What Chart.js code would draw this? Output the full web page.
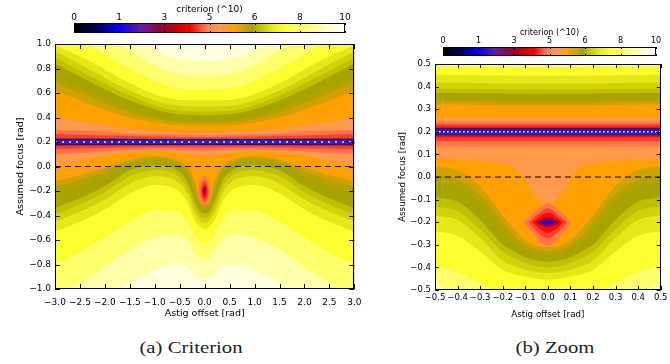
<!DOCTYPE html>
<html>
<head>
<meta charset="utf-8">
<script src="https://cdn.jsdelivr.net/npm/chart.js@4.4.0/dist/chart.umd.min.js"></script>
<style>
  body { margin: 0; background: #fff; }
  #page { position: relative; width: 670px; height: 364px; overflow: hidden; background: #fff; }
  canvas { position: absolute; }
  .cap { position: absolute; top: 339px; width: 200px; text-align: center; line-height: 18px;
         font-family: "Liberation Serif", serif; font-size: 17px; color: #222;
         transform: scaleX(1.22); white-space: nowrap; }
</style>
</head>
<body>
<div id="page">
  <canvas id="critA" width="370" height="330" style="left:0px;top:0px"></canvas>
  <canvas id="critB" width="290" height="330" style="left:380px;top:0px"></canvas>
  <canvas id="barA" width="300" height="40" style="left:60px;top:0px"></canvas>
  <canvas id="barB" width="250" height="45" style="left:420px;top:20px"></canvas>
  <div class="cap" style="left:91px">(a) Criterion</div>
  <div class="cap" style="left:455px">(b) Zoom</div>
</div>
<script>
// colour bar: evenly spaced labels, non-linear values
const cbLabels = [0, 1, 3, 5, 6, 8, 10];

// true focus (blue minimum line) and nominal focus (dashed)
const focusTrue = 0.2;
const focusZero = 0;

// ---- panel (a): full range ----
const aRangeX = [-3, 3];
const aRangeY = [-1, 1];

// contour lines above the minimum line
const aUpX = [-3, -2.25, -1.5, -0.75, 0, 0.75, 1.5, 2.25, 3];
const aUpLevels = [3.3, 4.2, 4.5, 4.85, 5.2, 5.55, 5.78, 5.87, 5.95, 6.2, 6.45, 6.75, 7.3, 8.2, 8.9, 9.5];
const aUpY = [
  [0.2, 0.2, 0.2, 0.2, 0.2, 0.2, 0.2, 0.2, 0.2],
  [0.212, 0.212, 0.212, 0.212, 0.212, 0.212, 0.212, 0.212, 0.212],
  [0.235, 0.232, 0.228, 0.225, 0.224, 0.225, 0.228, 0.232, 0.235],
  [0.265, 0.258, 0.25, 0.243, 0.241, 0.243, 0.25, 0.258, 0.265],
  [0.3, 0.288, 0.272, 0.262, 0.258, 0.262, 0.272, 0.288, 0.3],
  [0.4, 0.35, 0.31, 0.29, 0.285, 0.29, 0.31, 0.35, 0.4],
  [0.62, 0.5, 0.4, 0.345, 0.335, 0.345, 0.4, 0.5, 0.62],
  [0.69, 0.56, 0.44, 0.37, 0.355, 0.37, 0.44, 0.56, 0.69],
  [0.73, 0.6, 0.47, 0.39, 0.37, 0.39, 0.47, 0.6, 0.73],
  [0.84, 0.68, 0.54, 0.44, 0.42, 0.44, 0.54, 0.68, 0.84],
  [0.89, 0.73, 0.58, 0.47, 0.45, 0.47, 0.58, 0.73, 0.89],
  [0.94, 0.78, 0.62, 0.51, 0.49, 0.51, 0.62, 0.78, 0.94],
  [0.99, 0.85, 0.68, 0.56, 0.54, 0.56, 0.68, 0.85, 0.99],
  [1.15, 0.98, 0.8, 0.66, 0.63, 0.66, 0.8, 0.98, 1.15],
  [1.3, 1.15, 0.95, 0.78, 0.74, 0.78, 0.95, 1.15, 1.3],
  [1.45, 1.3, 1.1, 0.9, 0.86, 0.9, 1.1, 1.3, 1.45]
];

// contour lines below the minimum line (notch at x = 0)
const aLoX = [-3, -2.5, -2, -1.5, -1, -0.6, -0.35, -0.2, -0.1, 0, 0.1, 0.2, 0.35, 0.6, 1, 1.5, 2, 2.5, 3];
const aLoLevels = [3.3, 4.2, 4.5, 4.85, 5.2, 5.55, 5.78, 5.87, 5.95, 6.2, 6.45, 6.75, 7.3, 8.2, 8.9, 9.5];
const aLoY = [
  [0.2, 0.2, 0.2, 0.2, 0.2, 0.2, 0.2, 0.2, 0.2, 0.2, 0.2, 0.2, 0.2, 0.2, 0.2, 0.2, 0.2, 0.2, 0.2],
  [0.188, 0.188, 0.188, 0.188, 0.188, 0.188, 0.188, 0.188, 0.188, 0.188, 0.188, 0.188, 0.188, 0.188, 0.188, 0.188, 0.188, 0.188, 0.188],
  [0.165, 0.168, 0.17, 0.172, 0.173, 0.174, 0.174, 0.174, 0.174, 0.174, 0.174, 0.174, 0.174, 0.174, 0.173, 0.172, 0.17, 0.168, 0.165],
  [0.14, 0.145, 0.15, 0.155, 0.158, 0.158, 0.157, 0.156, 0.155, 0.155, 0.155, 0.156, 0.157, 0.158, 0.158, 0.155, 0.15, 0.145, 0.14],
  [0.1, 0.11, 0.125, 0.135, 0.14, 0.138, 0.135, 0.13, 0.128, 0.127, 0.128, 0.13, 0.135, 0.138, 0.14, 0.135, 0.125, 0.11, 0.1],
  [0, 0.04, 0.09, 0.115, 0.125, 0.115, 0.1, 0.09, 0.085, 0.085, 0.085, 0.09, 0.1, 0.115, 0.125, 0.115, 0.09, 0.04, 0],
  [-0.12, -0.07, -0.01, 0.055, 0.085, 0.06, 0, -0.12, -0.27, -0.3, -0.27, -0.12, 0, 0.06, 0.085, 0.055, -0.01, -0.07, -0.12],
  [-0.16, -0.11, -0.04, 0.04, 0.07, 0.045, -0.03, -0.17, -0.3, -0.325, -0.3, -0.17, -0.03, 0.045, 0.07, 0.04, -0.04, -0.11, -0.16],
  [-0.22, -0.16, -0.08, 0.02, 0.05, 0.025, -0.06, -0.22, -0.32, -0.34, -0.32, -0.22, -0.06, 0.025, 0.05, 0.02, -0.08, -0.16, -0.22],
  [-0.34, -0.26, -0.16, -0.03, 0.01, -0.02, -0.12, -0.28, -0.36, -0.385, -0.36, -0.28, -0.12, -0.02, 0.01, -0.03, -0.16, -0.26, -0.34],
  [-0.39, -0.31, -0.21, -0.08, -0.03, -0.06, -0.17, -0.33, -0.4, -0.42, -0.4, -0.33, -0.17, -0.06, -0.03, -0.08, -0.21, -0.31, -0.39],
  [-0.45, -0.37, -0.27, -0.14, -0.08, -0.11, -0.22, -0.38, -0.44, -0.46, -0.44, -0.38, -0.22, -0.11, -0.08, -0.14, -0.27, -0.37, -0.45],
  [-0.53, -0.45, -0.35, -0.22, -0.15, -0.18, -0.29, -0.44, -0.49, -0.51, -0.49, -0.44, -0.29, -0.18, -0.15, -0.22, -0.35, -0.45, -0.53],
  [-0.8, -0.7, -0.58, -0.45, -0.36, -0.36, -0.44, -0.56, -0.61, -0.63, -0.61, -0.56, -0.44, -0.36, -0.36, -0.45, -0.58, -0.7, -0.8],
  [-1.05, -0.95, -0.82, -0.68, -0.58, -0.56, -0.6, -0.7, -0.74, -0.76, -0.74, -0.7, -0.6, -0.56, -0.58, -0.68, -0.82, -0.95, -1.05],
  [-1.3, -1.2, -1.08, -0.95, -0.85, -0.8, -0.82, -0.88, -0.9, -0.92, -0.9, -0.88, -0.82, -0.8, -0.85, -0.95, -1.08, -1.2, -1.3]
];

// closed contours round the second minimum at (0, -0.2)
const aSpotLevels = [4.85, 4.5, 4.2, 3.3, 1.0];
const aSpotX = [
  [-0.12, -0.07, 0, 0.07, 0.12],
  [-0.085, -0.05, 0, 0.05, 0.085],
  [-0.055, -0.03, 0, 0.03, 0.055],
  [-0.035, -0.018, 0, 0.018, 0.035],
  [-0.025, 0, 0.025]
];
const aSpotTop = [
  [-0.2, -0.12, -0.07, -0.12, -0.2],
  [-0.2, -0.145, -0.11, -0.145, -0.2],
  [-0.2, -0.16, -0.14, -0.16, -0.2],
  [-0.2, -0.178, -0.165, -0.178, -0.2],
  [-0.2, -0.187, -0.2]
];
const aSpotBot = [
  [-0.2, -0.28, -0.33, -0.28, -0.2],
  [-0.2, -0.255, -0.29, -0.255, -0.2],
  [-0.2, -0.24, -0.26, -0.24, -0.2],
  [-0.2, -0.222, -0.235, -0.222, -0.2],
  [-0.2, -0.213, -0.2]
];

// ---- panel (b): zoom ----
const bRangeX = [-0.5, 0.5];
const bRangeY = [-0.5, 0.5];

const bUpX = [-0.5, -0.25, 0, 0.25, 0.5];
const bUpLevels = [3.3, 4.2, 4.5, 4.85, 5.2, 5.55, 5.78, 5.87, 5.95, 6.2, 6.45, 6.75, 7.3, 8.2];
const bUpY = [
  [0.2, 0.2, 0.2, 0.2, 0.2],
  [0.214, 0.214, 0.214, 0.214, 0.214],
  [0.224, 0.224, 0.224, 0.224, 0.224],
  [0.234, 0.234, 0.234, 0.234, 0.234],
  [0.246, 0.246, 0.246, 0.246, 0.246],
  [0.262, 0.262, 0.262, 0.262, 0.262],
  [0.322, 0.319, 0.318, 0.319, 0.322],
  [0.334, 0.331, 0.33, 0.331, 0.334],
  [0.344, 0.341, 0.34, 0.341, 0.344],
  [0.372, 0.369, 0.368, 0.369, 0.372],
  [0.392, 0.389, 0.388, 0.389, 0.392],
  [0.418, 0.415, 0.414, 0.415, 0.418],
  [0.452, 0.449, 0.448, 0.449, 0.452],
  [0.49, 0.488, 0.487, 0.488, 0.49]
];

const bLoX = [-0.5, -0.4, -0.3, -0.2, -0.15, -0.1, -0.05, 0, 0.05, 0.1, 0.15, 0.2, 0.3, 0.4, 0.5];
const bLoLevels = [3.3, 4.2, 4.5, 4.85, 5.2, 5.55, 5.78, 5.87, 5.95, 6.2, 6.45, 6.75, 7.3, 8.2, 8.9];
const bLoY = [
  [0.2, 0.2, 0.2, 0.2, 0.2, 0.2, 0.2, 0.2, 0.2, 0.2, 0.2, 0.2, 0.2, 0.2, 0.2],
  [0.188, 0.188, 0.188, 0.188, 0.188, 0.188, 0.188, 0.188, 0.188, 0.188, 0.188, 0.188, 0.188, 0.188, 0.188],
  [0.175, 0.175, 0.175, 0.175, 0.175, 0.175, 0.175, 0.175, 0.175, 0.175, 0.175, 0.175, 0.175, 0.175, 0.175],
  [0.158, 0.158, 0.158, 0.158, 0.158, 0.158, 0.158, 0.158, 0.158, 0.158, 0.158, 0.158, 0.158, 0.158, 0.158],
  [0.135, 0.135, 0.135, 0.135, 0.135, 0.135, 0.135, 0.135, 0.135, 0.135, 0.135, 0.135, 0.135, 0.135, 0.135],
  [0.078, 0.077, 0.072, 0.06, 0.045, -0.01, -0.09, -0.115, -0.09, -0.01, 0.045, 0.06, 0.072, 0.077, 0.078],
  [0.045, 0.03, -0.04, -0.17, -0.23, -0.28, -0.305, -0.31, -0.305, -0.28, -0.23, -0.17, -0.04, 0.03, 0.045],
  [0.01, -0.01, -0.08, -0.2, -0.26, -0.3, -0.322, -0.328, -0.322, -0.3, -0.26, -0.2, -0.08, -0.01, 0.01],
  [-0.025, -0.045, -0.115, -0.23, -0.285, -0.32, -0.34, -0.345, -0.34, -0.32, -0.285, -0.23, -0.115, -0.045, -0.025],
  [-0.09, -0.11, -0.19, -0.3, -0.33, -0.355, -0.37, -0.375, -0.37, -0.355, -0.33, -0.3, -0.19, -0.11, -0.09],
  [-0.13, -0.15, -0.23, -0.33, -0.36, -0.38, -0.395, -0.4, -0.395, -0.38, -0.36, -0.33, -0.23, -0.15, -0.13],
  [-0.17, -0.19, -0.27, -0.37, -0.395, -0.41, -0.42, -0.425, -0.42, -0.41, -0.395, -0.37, -0.27, -0.19, -0.17],
  [-0.24, -0.26, -0.33, -0.41, -0.43, -0.44, -0.45, -0.455, -0.45, -0.44, -0.43, -0.41, -0.33, -0.26, -0.24],
  [-0.39, -0.42, -0.47, -0.53, -0.55, -0.56, -0.57, -0.57, -0.57, -0.56, -0.55, -0.53, -0.47, -0.42, -0.39],
  [-0.47, -0.52, -0.6, -0.65, -0.67, -0.68, -0.69, -0.69, -0.69, -0.68, -0.67, -0.65, -0.6, -0.52, -0.47]
];

const bSpotLevels = [4.85, 4.5, 4.2, 3.3, 1.0];
const bSpotX = [
  [-0.105, -0.07, -0.035, 0, 0.035, 0.07, 0.105],
  [-0.085, -0.055, -0.025, 0, 0.025, 0.055, 0.085],
  [-0.068, -0.045, -0.02, 0, 0.02, 0.045, 0.068],
  [-0.055, -0.03, 0, 0.03, 0.055],
  [-0.048, 0, 0.048]
];
const bSpotTop = [
  [-0.2, -0.165, -0.135, -0.115, -0.135, -0.165, -0.2],
  [-0.2, -0.175, -0.15, -0.138, -0.15, -0.175, -0.2],
  [-0.2, -0.182, -0.165, -0.158, -0.165, -0.182, -0.2],
  [-0.2, -0.188, -0.178, -0.188, -0.2],
  [-0.2, -0.19, -0.2]
];
const bSpotBot = [
  [-0.2, -0.245, -0.285, -0.305, -0.285, -0.245, -0.2],
  [-0.2, -0.235, -0.262, -0.272, -0.262, -0.235, -0.2],
  [-0.2, -0.222, -0.24, -0.246, -0.24, -0.222, -0.2],
  [-0.2, -0.214, -0.224, -0.214, -0.2],
  [-0.2, -0.21, -0.2]
];

// colour table, position along the bar -> colour
const cmapStops = [
  [0.00, '#000000'], [0.08, '#000050'], [0.165, '#0000ff'], [0.25, '#6a1aa0'],
  [0.33, '#9a0030'], [0.385, '#d00000'], [0.43, '#ff0000'], [0.47, '#ff5a3a'],
  [0.50, '#ff8a5a'], [0.54, '#ff9c48'], [0.59, '#ffa000'], [0.625, '#d6a200'],
  [0.655, '#a4a000'], [0.69, '#c6c600'], [0.73, '#e8e818'], [0.78, '#ffff30'],
  [0.84, '#ffff60'], [0.90, '#ffffa0'], [0.96, '#ffffe0'], [1.00, '#ffffff']
];

Chart.defaults.font.family = "'DejaVu Sans', sans-serif";
Chart.defaults.color = '#000';

function hex(c) {
  return [1, 3, 5].map(i => parseInt(c.substr(i, 2), 16));
}

// criterion value -> position on the (evenly labelled) colour bar
function levelPos(v) {
  for (let i = 1; i < cbLabels.length; i++) {
    if (v <= cbLabels[i]) {
      const f = (v - cbLabels[i - 1]) / (cbLabels[i] - cbLabels[i - 1]);
      return (i - 1 + f) / (cbLabels.length - 1);
    }
  }
  return 1;
}

function levelColor(v) {
  const t = levelPos(v);
  for (let i = 1; i < cmapStops.length; i++) {
    if (t <= cmapStops[i][0]) {
      const [t0, c0] = cmapStops[i - 1], [t1, c1] = cmapStops[i];
      const f = (t - t0) / (t1 - t0);
      const a = hex(c0), b = hex(c1);
      const rgb = a.map((x, k) => Math.round(x + (b[k] - x) * f));
      return 'rgb(' + rgb.join(',') + ')';
    }
  }
  return '#ffffff';
}

const fmt = v => (v < -1e-9 ? '\u2212' : '') + Math.abs(v).toFixed(1);

// IDL style frame with inward ticks on all four sides
const idlFrame = {
  id: 'idlFrame',
  afterDatasetsDraw(chart, args, opts) {
    const { ctx, chartArea: a } = chart;
    const sx = chart.scales.x, sy = chart.scales.y;
    ctx.save();
    ctx.strokeStyle = '#000';
    ctx.lineWidth = 1;
    ctx.beginPath();
    sx.ticks.forEach(t => {
      const px = Math.round(sx.getPixelForValue(t.value)) + 0.5;
      ctx.moveTo(px, a.bottom); ctx.lineTo(px, a.bottom - opts.len);
      ctx.moveTo(px, a.top); ctx.lineTo(px, a.top + opts.len);
    });
    if (opts.yTicks) {
      sy.ticks.forEach(t => {
        const py = Math.round(sy.getPixelForValue(t.value)) + 0.5;
        ctx.moveTo(a.left, py); ctx.lineTo(a.left + opts.len, py);
        ctx.moveTo(a.right, py); ctx.lineTo(a.right - opts.len, py);
      });
    }
    ctx.stroke();
    ctx.strokeRect(Math.round(a.left) + 0.5, Math.round(a.top) + 0.5,
                   Math.round(a.width) - 1, Math.round(a.height) - 1);
    ctx.restore();
  }
};

function contourSets(xs, rows, levels, fill) {
  return rows.map((ys, k) => ({
    data: xs.map((x, i) => ({ x: x, y: ys[i] })),
    fill: fill,
    backgroundColor: levelColor(levels[k]),
    borderWidth: 0,
    pointRadius: 0,
    cubicInterpolationMode: 'monotone'
  }));
}

function spotSets(xs, tops, bots, levels) {
  const sets = [];
  levels.forEach((lv, k) => {
    const tension = xs[k].length > 3 ? 0.3 : 0;
    sets.push({ data: xs[k].map((x, i) => ({ x: x, y: tops[k][i] })), fill: '+1',
                backgroundColor: levelColor(lv), borderWidth: 0, pointRadius: 0, tension: tension });
    sets.push({ data: xs[k].map((x, i) => ({ x: x, y: bots[k][i] })), fill: false,
                borderWidth: 0, pointRadius: 0, tension: tension });
  });
  return sets;
}

function hLine(range, y, color, width, dash) {
  return { data: [{ x: range[0], y: y }, { x: range[1], y: y }], fill: false,
           borderColor: color, borderWidth: width, borderDash: dash || [], pointRadius: 0 };
}

function panel(id, p) {
  const sets = [].concat(
    contourSets(p.upX, p.upY, p.upLevels, 'end'),
    contourSets(p.loX, p.loY, p.loLevels, 'start'),
    spotSets(p.spotX, p.spotTop, p.spotBot, p.spotLevels),
    [
      hLine(p.rangeX, focusTrue, '#14105e', p.band + 2),
      hLine(p.rangeX, focusTrue, '#1c1cee', p.band),
      hLine(p.rangeX, focusTrue, '#ffffff', 1.5, p.dots),
      hLine(p.rangeX, focusZero, '#000000', 1.2, p.dash)
    ]
  );
  sets.forEach((d, i) => { d.order = sets.length - i; });

  return new Chart(document.getElementById(id), {
    type: 'line',
    data: { datasets: sets },
    options: {
      responsive: false,
      animation: false,
      layout: { padding: p.pad, autoPadding: false },
      plugins: {
        legend: { display: false },
        tooltip: { enabled: false },
        idlFrame: { len: p.tickLen, yTicks: true }
      },
      scales: {
        x: {
          type: 'linear', min: p.rangeX[0], max: p.rangeX[1],
          ticks: { stepSize: p.stepX, callback: fmt, font: { size: p.tickFont },
                   padding: p.xLabelPad, maxRotation: 0, autoSkip: false },
          grid: { display: false, drawTicks: false },
          border: { display: false },
          title: { display: true, text: 'Astig offset [rad]', font: { size: p.titleFont },
                   padding: { top: 0, bottom: p.xTitlePad } },
          afterFit: s => { s.height = p.xAxisH; }
        },
        y: {
          type: 'linear', min: p.rangeY[0], max: p.rangeY[1],
          ticks: { stepSize: p.stepY, callback: fmt, font: { size: p.tickFont },
                   padding: 4, autoSkip: false },
          grid: { display: false, drawTicks: false },
          border: { display: false },
          title: { display: true, text: 'Assumed focus [rad]', font: { size: p.titleFont },
                   padding: { top: p.yTitlePad, bottom: 0 } },
          afterFit: s => { s.width = 55; }
        }
      }
    },
    plugins: [idlFrame]
  });
}

function barGradient(c) {
  const ch = c.chart, ar = ch.chartArea;
  if (!ar) return '#888';
  const g = ch.ctx.createLinearGradient(ar.left, 0, ar.right, 0);
  cmapStops.forEach(s => g.addColorStop(s[0], s[1]));
  return g;
}

function colorBar(id, p) {
  return new Chart(document.getElementById(id), {
    type: 'bar',
    data: {
      labels: ['criterion'],
      datasets: [{ data: [[0, cbLabels.length - 1]], backgroundColor: barGradient,
                   borderWidth: 0, barPercentage: 1, categoryPercentage: 1 }]
    },
    options: {
      indexAxis: 'y',
      responsive: false,
      animation: false,
      layout: { padding: p.pad, autoPadding: false },
      plugins: {
        legend: { display: false },
        tooltip: { enabled: false },
        idlFrame: { len: 2, yTicks: false }
      },
      scales: {
        x: {
          type: 'linear', position: 'top', min: 0, max: cbLabels.length - 1,
          ticks: { stepSize: 1, callback: v => cbLabels[v], font: { size: p.font },
                   padding: p.labelPad, maxRotation: 0 },
          grid: { display: false, drawTicks: false },
          border: { display: false },
          title: { display: true, text: 'criterion (^10)', font: { size: p.font },
                   padding: { top: p.titlePad, bottom: 0 } },
          afterFit: s => { s.height = p.axisH; }
        },
        y: { display: false }
      }
    },
    plugins: [idlFrame]
  });
}

panel('critA', {
  rangeX: aRangeX, rangeY: aRangeY, stepX: 0.5, stepY: 0.2,
  upX: aUpX, upY: aUpY, upLevels: aUpLevels,
  loX: aLoX, loY: aLoY, loLevels: aLoLevels,
  spotX: aSpotX, spotTop: aSpotTop, spotBot: aSpotBot, spotLevels: aSpotLevels,
  band: 4, dots: [2, 5], dash: [6, 4],
  pad: { top: 44, right: 12, left: 0, bottom: 0 },
  tickLen: 5, tickFont: 9, titleFont: 9.5,
  xLabelPad: 8.5, xTitlePad: 11, yTitlePad: 14.5, xAxisH: 41
});

panel('critB', {
  rangeX: bRangeX, rangeY: bRangeY, stepX: 0.1, stepY: 0.1,
  upX: bUpX, upY: bUpY, upLevels: bUpLevels,
  loX: bLoX, loY: bLoY, loLevels: bLoLevels,
  spotX: bSpotX, spotTop: bSpotTop, spotBot: bSpotBot, spotLevels: bSpotLevels,
  band: 5, dots: [1.5, 2.5], dash: [6, 4],
  pad: { top: 64, right: 1, left: 0, bottom: 0 },
  tickLen: 4, tickFont: 8.5, titleFont: 8.7,
  xLabelPad: 2.5, xTitlePad: 9.8, yTitlePad: 17.8, xAxisH: 40
});

colorBar('barA', { pad: { left: 14, right: 15, top: 0, bottom: 7 }, font: 9, labelPad: 0, titlePad: 4, axisH: 23 });
colorBar('barB', { pad: { left: 23, right: 14, top: 0, bottom: 9 }, font: 8, labelPad: 1, titlePad: 8, axisH: 27 });
</script>
</body>
</html>
